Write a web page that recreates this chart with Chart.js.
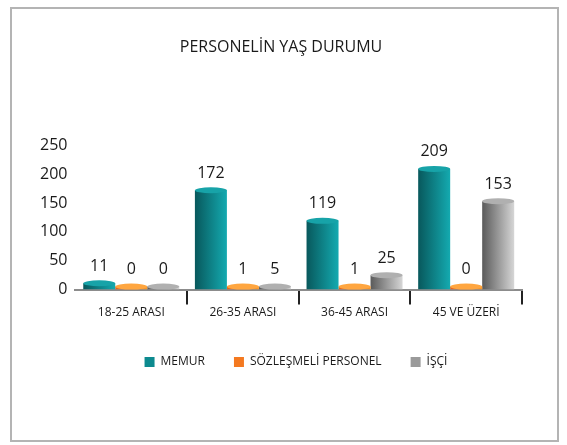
<!DOCTYPE html>
<html>
<head>
<meta charset="utf-8">
<script src="https://cdn.jsdelivr.net/npm/chart.js@4/dist/chart.umd.min.js"></script>
<style>
  html, body { margin: 0; padding: 0; background: #fff; }
  #frame { position: absolute; left: 10px; top: 7px; width: 545px; height: 431px; border: 2px solid #b4b4b4; }
  #wrap { position: absolute; left: 0; top: 0; width: 567px; height: 445px; }
</style>
</head>
<body>
<div id="frame"></div>
<div id="wrap"><canvas id="grafik" width="567" height="445"></canvas></div>
<script>
// veriler
var kategoriler = ['18-25 ARASI', '26-35 ARASI', '36-45 ARASI', '45 VE ÜZERİ'];
var memur = [11, 172, 119, 209];
var sozlesmeli = [0, 1, 1, 0];
var isci = [0, 5, 25, 153];
var yEtiketleri = [0, 50, 100, 150, 200, 250];

var renkler = [
    { koyu: '#08585c', acik: '#14aab0', kapak: '#17a3a8', duz: '#0d8a8f' },
    { koyu: '#e8601a', acik: '#fb9a2a', kapak: '#ffa640', duz: '#f47920' },
    { koyu: '#5a5a5a', acik: '#d6d6d6', kapak: '#b0b0b0', duz: '#9a9a9a' }
];

var yazi = "'Open Sans', 'DejaVu Sans', sans-serif";

// çubuklara yatay gradyan + üst kapak + değer etiketleri
var silindirPlugin = {
    id: 'silindir',
    afterLayout: function(chart) {
        // lejant biraz sağda duruyor
        chart.legend.left += 15;
        chart.legend.right += 15;
    },
    beforeDatasetsDraw: function(chart) {
        var ctx = chart.ctx;
        chart.data.datasets.forEach(function(ds, i) {
            var meta = chart.getDatasetMeta(i);
            meta.data.forEach(function(bar) {
                var g = ctx.createLinearGradient(bar.x - bar.width / 2, 0, bar.x + bar.width / 2, 0);
                g.addColorStop(0, renkler[i].koyu);
                g.addColorStop(1, renkler[i].acik);
                // seçenekler paylaşılıyor, kopya al
                bar.options = Object.assign({}, bar.options, { backgroundColor: g });
            });
        });
    },
    afterDatasetsDraw: function(chart) {
        var ctx = chart.ctx;
        ctx.save();
        chart.data.datasets.forEach(function(ds, i) {
            var meta = chart.getDatasetMeta(i);
            meta.data.forEach(function(bar, j) {
                ctx.fillStyle = renkler[i].kapak;
                ctx.beginPath();
                ctx.ellipse(bar.x, bar.y, bar.width / 2, 3, 0, 0, Math.PI * 2);
                ctx.fill();
                ctx.fillStyle = '#1a1a1a';
                ctx.font = '16px ' + yazi;
                ctx.textAlign = 'center';
                ctx.textBaseline = 'bottom';
                ctx.fillText(ds.data[j], bar.x, bar.y - 9);
            });
        });
        ctx.restore();
    }
};

var chart = new Chart(document.getElementById('grafik').getContext('2d'), {
    type: 'bar',
    data: {
        labels: kategoriler,
        datasets: [
            { label: 'MEMUR', data: memur, backgroundColor: renkler[0].duz },
            { label: 'SÖZLEŞMELİ PERSONEL', data: sozlesmeli, backgroundColor: renkler[1].duz },
            { label: 'İŞÇİ', data: isci, backgroundColor: renkler[2].duz }
        ]
    },
    options: {
        responsive: false,
        animation: false,
        layout: { padding: { left: 40, right: 45, top: 0, bottom: 67 } },
        datasets: { bar: { categoryPercentage: 0.86, barPercentage: 1.0, minBarLength: 3, borderWidth: 0 } },
        plugins: {
            title: {
                display: true,
                text: 'PERSONELİN YAŞ DURUMU',
                color: '#1a1a1a',
                font: { family: yazi, size: 16, weight: 'normal' },
                padding: { top: 38, bottom: 88 }
            },
            legend: {
                position: 'bottom',
                labels: {
                    boxWidth: 10, boxHeight: 10, padding: 29,
                    color: '#1a1a1a',
                    font: { family: yazi, size: 12 }
                }
            },
            tooltip: { enabled: false }
        },
        scales: {
            x: {
                grid: {
                    drawOnChartArea: false,
                    tickLength: 15,
                    color: function(c) { return c.index === 0 ? 'rgba(0,0,0,0)' : '#222'; },
                    lineWidth: 2
                },
                border: { color: '#8c8c8c', width: 2 },
                afterFit: function(s) { s.height += 6; },
                ticks: { color: '#1a1a1a', font: { family: yazi, size: 12 }, padding: 1 }
            },
            y: {
                min: 0, max: 250,
                afterBuildTicks: function(ax) { ax.ticks = yEtiketleri.map(function(v) { return { value: v }; }); },
                grid: { display: false },
                border: { display: false },
                ticks: { color: '#1a1a1a', font: { family: yazi, size: 16 }, padding: 0 }
            }
        }
    },
    plugins: [silindirPlugin]
});
</script>
</body>
</html>
